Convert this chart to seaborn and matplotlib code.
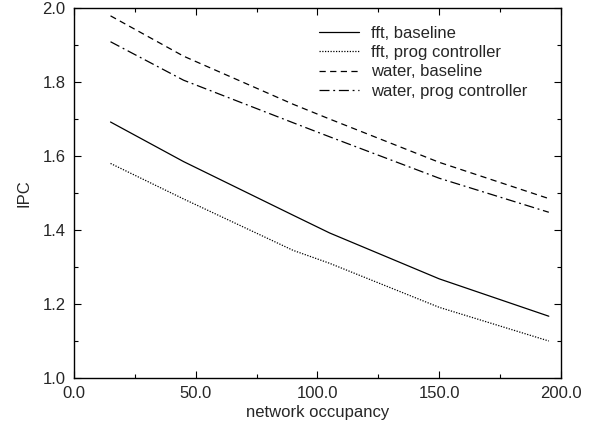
import matplotlib
matplotlib.use("Agg")
import matplotlib.pyplot as plt
import pandas as pd
import seaborn as sns
from matplotlib.ticker import AutoMinorLocator, FormatStrFormatter

occupancy = [15, 45, 90, 105, 150, 195]
fft_baseline = [1.692, 1.585, 1.440, 1.392, 1.268, 1.167]
fft_prog = [1.580, 1.484, 1.345, 1.310, 1.191, 1.100]
water_baseline = [1.979, 1.870, 1.740, 1.700, 1.583, 1.485]
water_prog = [1.909, 1.805, 1.690, 1.652, 1.540, 1.448]

series = ["fft, baseline", "fft, prog controller",
          "water, baseline", "water, prog controller"]

df = pd.DataFrame({
    "network occupancy": occupancy * 4,
    "IPC": fft_baseline + fft_prog + water_baseline + water_prog,
    "series": [s for s in series for _ in occupancy],
})

sns.set_style("ticks")
plt.rcParams["font.family"] = ["Liberation Sans", "DejaVu Sans"]

fig = plt.figure(figsize=(5.92, 4.25), dpi=100)
ax = fig.add_axes([0.125, 0.1106, 0.8226, 0.8704])

dashes = {
    "fft, baseline": "",
    "fft, prog controller": (1, 1.2),
    "water, baseline": (5, 3.5),
    "water, prog controller": (8, 3, 1.5, 3),
}
sns.lineplot(data=df, x="network occupancy", y="IPC", hue="series",
             style="series", dashes=dashes, hue_order=series,
             style_order=series,
             palette=["black"] * 4, linewidth=0.9, ax=ax)

ax.set_xlim(0, 200)
ax.set_ylim(1.0, 2.0)
ax.set_xticks([0, 50, 100, 150, 200])
ax.set_yticks([1.0, 1.2, 1.4, 1.6, 1.8, 2.0])
ax.xaxis.set_major_formatter(FormatStrFormatter("%.1f"))
ax.yaxis.set_major_formatter(FormatStrFormatter("%.1f"))
ax.xaxis.set_minor_locator(AutoMinorLocator(2))
ax.yaxis.set_minor_locator(AutoMinorLocator(2))
ax.tick_params(which="both", direction="in", top=True, right=True,
               labelsize=12, color="black", width=0.8)
ax.tick_params(which="major", length=5, pad=6)
ax.tick_params(which="minor", length=3)
for sp in ax.spines.values():
    sp.set_linewidth(1.0)
    sp.set_color("black")

ax.set_xlabel("network occupancy", fontsize=12, labelpad=3)
ax.set_ylabel("IPC", fontsize=12, labelpad=8)

leg = ax.legend(loc="upper right", frameon=False, fontsize=12,
                handlelength=2.4, handletextpad=0.7, labelspacing=0.25,
                bbox_to_anchor=(0.962, 0.992))
for h in leg.get_lines():
    h.set_linewidth(0.9)

fig.savefig("out.png", dpi=100)
